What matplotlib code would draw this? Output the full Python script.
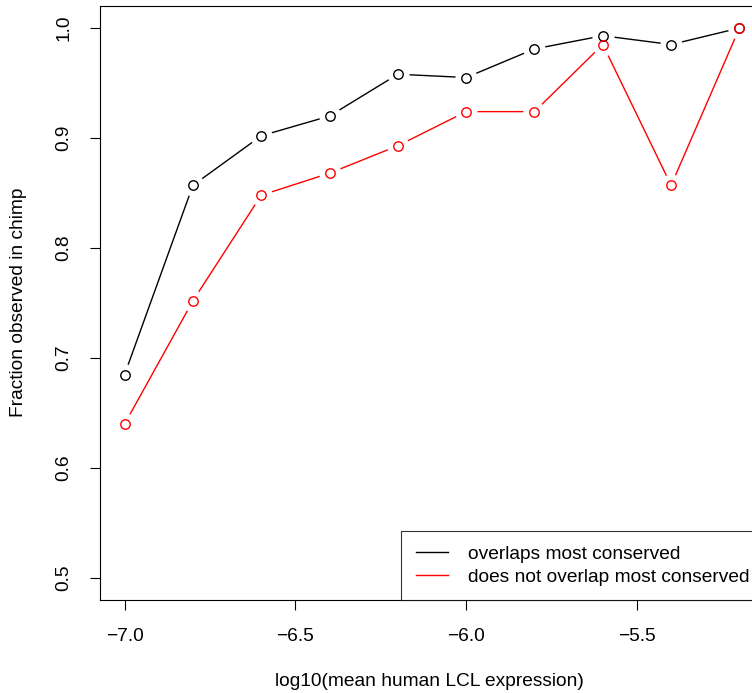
import matplotlib
matplotlib.use("Agg")
import matplotlib.pyplot as plt
from matplotlib.lines import Line2D

plt.rcParams['font.family'] = ['Liberation Sans', 'DejaVu Sans']

expr = [-7.0, -6.8, -6.6, -6.4, -6.2, -6.0, -5.8, -5.6, -5.4, -5.2]
overlap = [0.685, 0.857, 0.902, 0.920, 0.958, 0.955, 0.981, 0.993, 0.985, 1.0]
no_overlap = [0.640, 0.752, 0.848, 0.868, 0.893, 0.924, 0.924, 0.985, 0.857, 1.0]
series_names = ["overlaps most conserved", "does not overlap most conserved"]
series_colors = ["black", "red"]
xticks = [-7.0, -6.5, -6.0, -5.5]
yticks = [0.5, 0.6, 0.7, 0.8, 0.9, 1.0]

fig = plt.figure(figsize=(7.52, 6.93), dpi=100)
# plot region runs past the right edge of the picture, like the reference
ax = fig.add_axes([0.133, 0.1342, 0.883, 0.8571])

fs = 13.75
for ys, col in zip([overlap, no_overlap], series_colors):
    ax.plot(expr, ys, color=col, lw=1, zorder=2)
for ys in [overlap, no_overlap]:
    # white halo gives the R type="b" gap around each point
    ax.plot(expr, ys, ls='none', marker='o', ms=16, mfc='white', mec='none', zorder=3)
for ys, col in zip([overlap, no_overlap], series_colors):
    ax.plot(expr, ys, ls='none', marker='o', ms=6.8, mfc='none', mec=col, mew=1.0, zorder=4)

ax.set_xlim(-7.072, -5.128)
ax.set_ylim(0.48, 1.02)
ax.set_xticks(xticks)
ax.set_xticklabels([f"{t:.1f}".replace("-", "\u2212") for t in xticks])
ax.set_yticks(yticks)
ax.set_yticklabels([f"{t:.1f}" for t in yticks], rotation=90, va='center')
ax.tick_params(direction='out', length=7, width=0.8, labelsize=fs, pad=13)
for s in ax.spines.values():
    s.set_linewidth(0.8)

fig.text(429 / 752, 1 - 682 / 693, "log10(mean human LCL expression)",
         ha='center', va='center', fontsize=fs)
fig.text(19 / 752, 1 - 302.5 / 693, "Fraction observed in chimp",
         ha='center', va='center', rotation=90, fontsize=fs)

handles = [Line2D([], [], color=c, lw=1) for c in series_colors]
leg = ax.legend(handles, series_names, loc='lower right', bbox_to_anchor=(1, 0),
                borderaxespad=0, fancybox=False, fontsize=fs, handlelength=1.7,
                handletextpad=1.05, labelspacing=0.3, borderpad=0.75)
leg.get_frame().set_edgecolor('black')
leg.get_frame().set_linewidth(0.8)

fig.savefig("out.png", dpi=100)
